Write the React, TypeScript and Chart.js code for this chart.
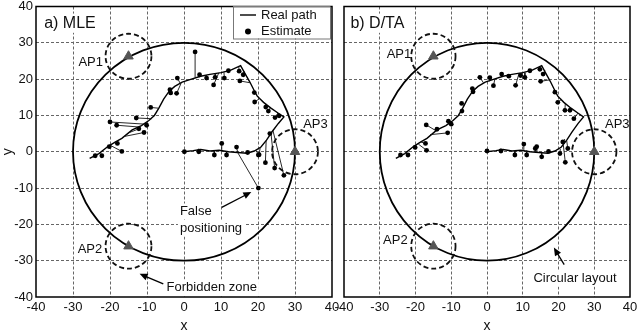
import React, { useEffect, useRef } from 'react';
import { Chart, registerables } from 'chart.js';

Chart.register(...registerables);

// ---------------- data ----------------
const axisMin = -40;
const axisMax = 40;
const axisStep = 10;

// real walking path (shared by both panels)
const pathX = [-25.5, -23, -20.5, -18.5, -16.8, -14, -11.5, -9.5, -8, -6.8, -5.5, -4, -2.5, -0.5, 2, 4.5, 7, 10, 12.5, 15.3, 16.5, 17.8, 19, 19.8, 21.5, 23.5, 25.5, 27, 25.5, 23.8, 22.3, 20.8, 19, 17, 14.5, 12, 9.5, 7, 4.5, 2.5, 0];
const pathY = [-1.8, -0.5, 1.5, 2.7, 3.7, 6.0, 7.2, 8.6, 10, 12, 14.5, 16.7, 18, 19.2, 20, 20.8, 21.3, 21.8, 22.4, 23.7, 21.5, 19.2, 16.8, 15.3, 13.6, 12, 10.6, 9.6, 7.8, 5.5, 3.2, 1.3, 0.2, -0.4, -0.2, 0, 0.4, 0.2, 0.6, 0.3, 0];

// a) MLE estimates and the path point each one belongs to
const mleEstX = [-24.0, -22.2, -20.2, -18.0, -16.8, -20.0, -18.2, -12.9, -12.2, -10.8, -10.1, -9.0, -3.8, -3.6, -2.0, -1.8, 3.0, 4.2, 6.1, 8.0, 8.4, 10.9, 12.0, 14.9, 16.0, 15.1, 19.0, 19.1, 22.1, 22.8, 24.6, 25.7, 23.2, 24.5, 27.0, 22.0, 20.3, 20.1, 14.2, 17.2, 11.5, 10.2, 8.2, 4.0, 0.1, 20.1];
const mleEstY = [-1.1, -1.1, 1.4, 2.3, 0.1, 8.2, 7.3, 9.3, 6.3, 5.3, 7.3, 12.2, 17.1, 16.2, 16.1, 20.3, 27.5, 21.2, 20.3, 18.4, 20.5, 20.3, 22.3, 22.2, 21.2, 19.5, 16.3, 13.7, 12.3, 11.2, 9.4, 9.9, 5.0, -4.5, -6.5, -3.0, -0.8, -10.0, 1.3, -0.2, -0.9, 2.3, -0.9, 0.0, 0.0, -0.9];
const mleAncX = [-24.5, -22.5, -20.5, -18.2, -20.0, -10.5, -12.0, -8.7, -15.0, -16.2, -10.6, -6.9, -3.6, -4.0, -0.8, -1.0, 3.2, 4.3, 6.0, 9.4, 8.6, 10.8, 12.0, 14.8, 16.3, 17.9, 19.1, 20.5, 22.0, 23.3, 25.4, 26.0, 23.9, 23.5, 24.0, 22.2, 20.6, 14.5, 14.5, 17.2, 11.5, 10.2, 8.2, 4.0, 0.0, 19.5];
const mleAncY = [-1.5, -0.4, 1.5, 2.9, 1.8, 7.6, 6.8, 9.1, 5.2, 4.2, 7.8, 12.0, 17.0, 16.5, 18.8, 18.8, 20.4, 20.7, 21.1, 21.7, 21.5, 21.9, 22.3, 23.5, 22.2, 19.0, 16.6, 14.7, 13.2, 12.1, 10.7, 10.2, 5.6, 5.2, 6.0, 3.0, 1.2, -0.2, -0.1, -0.4, 0.1, 0.5, 0.3, 0.8, 0.0, 0.4];

// b) D/TA estimates and their path points
const dtaEstX = [-24.2, -22.1, -20.1, -17.2, -16.9, -17.0, -14.0, -11.0, -10.8, -10.0, -7.1, -7.0, -3.9, -4.1, -2.0, 0.8, 1.8, 4.1, 6.1, 8.0, 9.4, 10.6, 12.0, 14.8, 15.7, 15.0, 19.0, 19.8, 21.8, 23.2, 24.3, 21.9, 20.4, 22.6, 21.2, 17.2, 15.3, 13.9, 10.3, 11.1, 7.8, 3.9, 0.0, 13.5];
const dtaEstY = [-0.9, -0.9, 1.2, 2.3, 0.4, 7.4, 6.2, 5.2, 8.4, 7.6, 13.3, 11.2, 16.5, 17.4, 20.5, 20.4, 18.2, 21.4, 20.8, 18.3, 21.0, 20.5, 22.3, 22.7, 21.4, 19.4, 16.4, 13.6, 11.4, 11.4, 9.1, -2.9, -0.5, 0.9, 2.7, 0.1, -1.4, 1.4, 2.1, -0.9, -0.9, 0.2, 0.2, 0.9];
const dtaAncX = [-24.4, -22.4, -20.4, -18.5, -19.2, -14.3, -13.8, -15.9, -10.9, -10.4, -6.5, -7.3, -4.2, -3.6, -1.0, 0.6, 2.2, 4.2, 6.2, 9.0, 9.6, 10.6, 12.0, 14.9, 16.2, 17.6, 19.1, 20.8, 21.9, 23.2, 25.5, 21.3, 20.5, 22.3, 21.8, 17.2, 15.3, 14.0, 10.3, 11.1, 7.8, 3.9, 0.0, 13.5];
const dtaAncY = [-1.3, -0.3, 1.6, 2.7, 2.1, 5.8, 6.1, 4.7, 8.5, 8.7, 12.7, 11.1, 16.4, 17.0, 19.0, 19.5, 20.0, 20.7, 21.1, 21.7, 21.7, 21.8, 22.3, 23.5, 22.4, 19.8, 16.6, 14.4, 13.3, 12.1, 10.7, 2.3, 0.8, 3.0, 3.5, -0.4, -0.3, -0.1, 0.5, 0.3, 0.3, 0.8, 0.0, -0.1];

// access points, forbidden zones and circular layout
const apNames = ['AP1', 'AP2', 'AP3'];
const apX = [-15, -15, 30];
const apY = [26.3, -26.0, 0];
const zoneRadius = 6.2;
const layoutCenterX = 0;
const layoutCenterY = 0;
const layoutRadius = 30;

const FONT = '"Liberation Sans", Arial, Helvetica, sans-serif';

type Label = { text: string; x: number; y: number; align: CanvasTextAlign; size?: number; bg?: boolean };
type Arrow = { x1: number; y1: number; x2: number; y2: number };

const mleLabels: Label[] = [
  { text: 'a) MLE', x: -37.8, y: 35.4, align: 'left', size: 16, bg: true },
  { text: 'AP1', x: -21.9, y: 24.6, align: 'right' },
  { text: 'AP2', x: -22.1, y: -26.8, align: 'right' },
  { text: 'AP3', x: 32.2, y: 7.4, align: 'left' },
  { text: 'False', x: -1.1, y: -16.4, align: 'left', bg: true },
  { text: 'positioning', x: -1.1, y: -21.2, align: 'left', bg: true },
  { text: 'Forbidden zone', x: -4.7, y: -37.3, align: 'left', bg: true },
];
const mleArrows: Arrow[] = [
  { x1: 10.2, y1: -15.3, x2: 18.2, y2: -11.1 },
  { x1: -5.6, y1: -36.4, x2: -12.0, y2: -33.6 },
];
const dtaLabels: Label[] = [
  { text: 'b) D/TA', x: -38.2, y: 35.4, align: 'left', size: 16, bg: true },
  { text: 'AP1', x: -21.2, y: 26.9, align: 'right' },
  { text: 'AP2', x: -22.2, y: -24.4, align: 'right' },
  { text: 'AP3', x: 33.0, y: 7.4, align: 'left' },
  { text: 'Circular layout', x: 13.0, y: -35.0, align: 'left', bg: true },
];
const dtaArrows: Arrow[] = [{ x1: 21.6, y1: -31.1, x2: 18.7, y2: -26.4 }];

type PanelSpec = {
  estX: number[]; estY: number[]; ancX: number[]; ancY: number[];
  labels: Label[]; arrows: Arrow[]; legend: boolean; showY: boolean;
  left: number; width: number; padLeft: number; padRight: number;
};

function overlayPlugin(p: PanelSpec) {
  return {
    id: 'overlay',
    beforeDatasetsDraw(chart: any) {
      const { ctx, scales } = chart;
      const xs = scales.x, ys = scales.y;
      const ux = Math.abs(xs.getPixelForValue(1) - xs.getPixelForValue(0));
      const uy = Math.abs(ys.getPixelForValue(1) - ys.getPixelForValue(0));
      ctx.save();
      // circular layout
      ctx.strokeStyle = '#000';
      ctx.lineWidth = 1.8;
      ctx.beginPath();
      ctx.ellipse(xs.getPixelForValue(layoutCenterX), ys.getPixelForValue(layoutCenterY), layoutRadius * ux, layoutRadius * uy, 0, 0, Math.PI * 2);
      ctx.stroke();
      // forbidden zones
      ctx.setLineDash([5, 3]);
      ctx.lineWidth = 1.8;
      ctx.strokeStyle = '#111';
      for (let i = 0; i < apX.length; i++) {
        ctx.beginPath();
        ctx.ellipse(xs.getPixelForValue(apX[i]), ys.getPixelForValue(apY[i]), zoneRadius * ux, zoneRadius * uy, 0, 0, Math.PI * 2);
        ctx.stroke();
      }
      ctx.restore();
    },
    afterDatasetsDraw(chart: any) {
      const { ctx, scales, chartArea } = chart;
      const xs = scales.x, ys = scales.y;
      ctx.save();
      // frame
      ctx.strokeStyle = '#000';
      ctx.lineWidth = 1.5;
      ctx.strokeRect(chartArea.left, chartArea.top, chartArea.right - chartArea.left, chartArea.bottom - chartArea.top);
      // labels
      ctx.textBaseline = 'middle';
      for (const l of p.labels) {
        ctx.font = `${l.size || 13}px ${FONT}`;
        ctx.textAlign = l.align;
        const px = xs.getPixelForValue(l.x);
        const py = ys.getPixelForValue(l.y);
        const w = ctx.measureText(l.text).width;
        if (l.bg) {
          const x0 = l.align === 'right' ? px - w : px;
          ctx.fillStyle = '#fff';
          ctx.fillRect(x0 - 2, py - (l.size || 13) * 0.6, w + 4, (l.size || 13) * 1.2);
        }
        ctx.fillStyle = '#111';
        ctx.fillText(l.text, px, py);
      }
      // arrows
      for (const a of p.arrows) {
        const x1 = xs.getPixelForValue(a.x1), y1 = ys.getPixelForValue(a.y1);
        const x2 = xs.getPixelForValue(a.x2), y2 = ys.getPixelForValue(a.y2);
        const ang = Math.atan2(y2 - y1, x2 - x1);
        const hl = 8, hw = 3.5;
        ctx.strokeStyle = '#000';
        ctx.lineWidth = 1.3;
        ctx.beginPath();
        ctx.moveTo(x1, y1);
        ctx.lineTo(x2 - Math.cos(ang) * hl * 0.8, y2 - Math.sin(ang) * hl * 0.8);
        ctx.stroke();
        ctx.fillStyle = '#000';
        ctx.beginPath();
        ctx.moveTo(x2, y2);
        ctx.lineTo(x2 - Math.cos(ang) * hl - Math.sin(ang) * hw, y2 - Math.sin(ang) * hl + Math.cos(ang) * hw);
        ctx.lineTo(x2 - Math.cos(ang) * hl + Math.sin(ang) * hw, y2 - Math.sin(ang) * hl - Math.cos(ang) * hw);
        ctx.closePath();
        ctx.fill();
      }
      // legend
      if (p.legend) {
        const right = chartArea.right - 2;
        const top = chartArea.top;
        const left = right - 97;
        const bottom = top + 32;
        ctx.fillStyle = '#fff';
        ctx.fillRect(left, top, right - left, bottom - top);
        ctx.strokeStyle = '#777';
        ctx.lineWidth = 1;
        ctx.strokeRect(left + 0.5, top + 0.5, right - left, bottom - top);
        ctx.strokeStyle = '#000';
        ctx.lineWidth = 1.4;
        ctx.beginPath();
        ctx.moveTo(left + 7, top + 8.5);
        ctx.lineTo(left + 23, top + 8.5);
        ctx.stroke();
        ctx.fillStyle = '#000';
        ctx.beginPath();
        ctx.arc(left + 15, top + 25, 3, 0, Math.PI * 2);
        ctx.fill();
        ctx.font = `13px ${FONT}`;
        ctx.textAlign = 'left';
        ctx.textBaseline = 'middle';
        ctx.fillStyle = '#111';
        ctx.fillText('Real path', left + 28, top + 8.5);
        ctx.fillText('Estimate', left + 28, top + 25);
      }
      ctx.restore();
    },
  };
}

function buildConfig(p: PanelSpec): any {
  const datasets: any[] = [];
  datasets.push({
    data: apX.map((x, i) => ({ x, y: apY[i] })),
    pointStyle: 'triangle', pointRadius: 5.5, backgroundColor: '#555', borderColor: '#555', borderWidth: 1,
    showLine: false, order: 0,
  });
  datasets.push({
    data: p.estX.map((x, i) => ({ x, y: p.estY[i] })),
    pointRadius: 2.4, backgroundColor: '#000', borderColor: '#000', borderWidth: 0, showLine: false, order: 1,
  });
  for (let i = 0; i < p.estX.length; i++) {
    datasets.push({
      data: [{ x: p.ancX[i], y: p.ancY[i] }, { x: p.estX[i], y: p.estY[i] }],
      showLine: true, pointRadius: 0, borderColor: '#111', borderWidth: 0.9, order: 2,
    });
  }
  datasets.push({
    data: pathX.map((x, i) => ({ x, y: pathY[i] })),
    showLine: true, pointRadius: 0, borderColor: '#000', borderWidth: 1.4, tension: 0, order: 3,
  });
  const gridColor = (c: any) => (c.tick && Math.abs(c.tick.value) === 40 ? 'rgba(0,0,0,0)' : '#666');
  return {
    type: 'scatter',
    data: { datasets },
    options: {
      animation: false,
      responsive: false,
      maintainAspectRatio: false,
      events: [],
      layout: { padding: { top: 5, right: p.padRight, left: p.padLeft, bottom: 0 } },
      plugins: { legend: { display: false }, tooltip: { enabled: false }, title: { display: false } },
      scales: {
        x: {
          type: 'linear', min: axisMin, max: axisMax, position: 'bottom',
          ticks: { stepSize: axisStep, color: '#111', font: { family: FONT, size: 13 }, padding: 3, maxRotation: 0, autoSkip: false },
          grid: { color: gridColor, lineWidth: 1, drawTicks: false },
          border: { display: false, dash: [3, 2] },
          title: { display: true, text: 'x', color: '#111', font: { family: FONT, size: 14 }, padding: { top: 0, bottom: 1 } },
          afterFit: (s: any) => { s.height = 39; s.paddingLeft = 0; s.paddingRight = 0; },
        },
        y: {
          type: 'linear', min: axisMin, max: axisMax, position: 'left',
          ticks: { display: p.showY, stepSize: axisStep, color: '#111', font: { family: FONT, size: 13 }, padding: 3 },
          grid: { color: gridColor, lineWidth: 1, drawTicks: false },
          border: { display: false, dash: [3, 2] },
          title: { display: p.showY, text: 'y', color: '#111', font: { family: FONT, size: 14 }, padding: { top: 0, bottom: 0 } },
          afterFit: (s: any) => { s.width = p.showY ? 36 : 0; s.paddingTop = 0; s.paddingBottom = 0; },
        },
      },
    },
    plugins: [overlayPlugin(p)],
  };
}

function Panel({ spec }: { spec: PanelSpec }) {
  const ref = useRef<HTMLCanvasElement>(null);
  useEffect(() => {
    if (!ref.current) return;
    const chart = new Chart(ref.current, buildConfig(spec));
    return () => chart.destroy();
  }, [spec]);
  return (
    <canvas
      ref={ref}
      width={spec.width}
      height={336}
      style={{ position: 'absolute', left: spec.left, top: 0, width: spec.width, height: 336 }}
    />
  );
}

const mleSpec: PanelSpec = {
  estX: mleEstX, estY: mleEstY, ancX: mleAncX, ancY: mleAncY,
  labels: mleLabels, arrows: mleArrows, legend: true, showY: true,
  left: 0, width: 345, padLeft: 0, padRight: 13,
};
const dtaSpec: PanelSpec = {
  estX: dtaEstX, estY: dtaEstY, ancX: dtaAncX, ancY: dtaAncY,
  labels: dtaLabels, arrows: dtaArrows, legend: false, showY: false,
  left: 320, width: 317, padLeft: 24, padRight: 7,
};

export default function App() {
  return (
    <div style={{ position: 'absolute', left: 0, top: 0, width: 637, height: 336, background: '#fff', overflow: 'hidden' }}>
      <Panel spec={mleSpec} />
      <Panel spec={dtaSpec} />
    </div>
  );
}
